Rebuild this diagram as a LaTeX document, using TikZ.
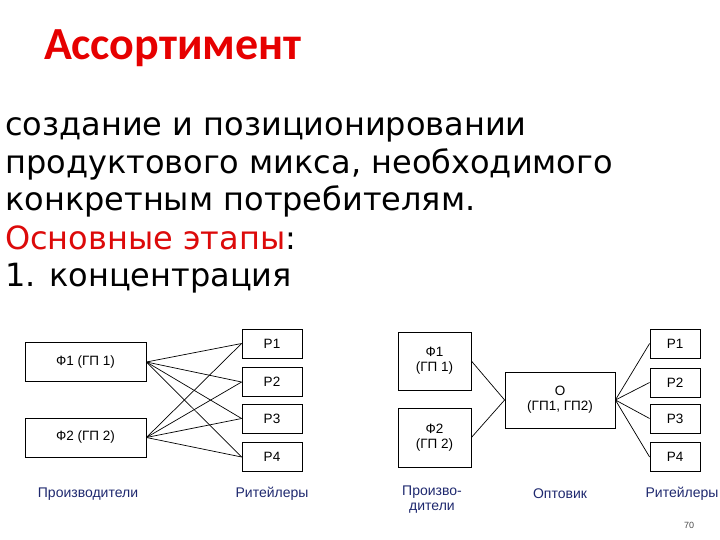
\documentclass[tikz,border=0pt]{standalone}
\usepackage{fontspec}
\setmainfont{DejaVu Sans}
\newfontfamily\titlefont{Carlito}
\newfontfamily\diagfont{Liberation Sans}
\definecolor{titlered}{RGB}{230,0,0}
\definecolor{bodyred}{RGB}{220,10,10}
\definecolor{labblue}{RGB}{30,40,110}
\tikzset{
  bx/.style={draw=black, line width=0.8pt, inner sep=0pt, font=\diagfont\fontsize{13.5}{15}\selectfont, align=center},
  ln/.style={draw=black, line width=0.7pt},
  lab/.style={font=\diagfont\fontsize{14}{15}\selectfont, text=labblue, align=center, inner sep=0pt},
  body/.style={anchor=base west, inner sep=0pt, font=\fontsize{32}{37}\selectfont}
}
\begin{document}
\begin{tikzpicture}[x=1pt,y=-1pt]
\useasboundingbox (0,0) rectangle (720,540);
\node[anchor=base west, inner sep=0pt, text=titlered, font=\titlefont\bfseries\fontsize{46}{52}\selectfont] (title) at (44,60) {Ассортимент};
\node[body] (l1) at (5,136) {создание и позиционировании};
\node[body] (l2) at (5,174) {продуктового микса, необходимого};
\node[body] (l3) at (5,211) {конкретным потребителям.};
\node[body] (l4) at (5,249) {\textcolor{bodyred}{Основные этапы}:};
\node[body] (l5) at (5,286) {1. концентрация};
% left diagram
\node[bx, minimum width=121pt, minimum height=39pt] (f1) at (85.5,362) {Ф1 (ГП 1)};
\node[bx, minimum width=121pt, minimum height=39pt] (f2) at (85.5,437.5) {Ф2 (ГП 2)};
\foreach \n/\y in {1/343.5,2/382,3/418.5,4/457}{
  \node[bx, minimum width=60pt, minimum height=29pt] (p\n) at (272,\y) {Р\n};
}
\foreach \n in {1,2,3,4}{
  \draw[ln] (f1.east) -- (p\n.west);
  \draw[ln] (f2.east) -- (p\n.west);
}
\node[lab] (prodL) at (88,494) {Производители};
\node[lab] (retL) at (272,494) {Ритейлеры};
% right diagram
\node[bx, minimum width=73pt, minimum height=58pt] (g1) at (434.5,361) {Ф1\\(ГП 1)};
\node[bx, minimum width=73pt, minimum height=59pt] (g2) at (434.5,437.5) {Ф2\\(ГП 2)};
\node[bx, minimum width=110pt, minimum height=56pt] (o) at (560,400) {О\\(ГП1, ГП2)};
\foreach \n/\y in {1/343.5,2/382.5,3/418.5,4/457}{
  \node[bx, minimum width=50pt, minimum height=29pt] (q\n) at (675,\y) {Р\n};
}
\draw[ln] (g1.east) -- (o.west);
\draw[ln] (g2.east) -- (o.west);
\foreach \n in {1,2,3,4}{
  \draw[ln] (o.east) -- (q\n.west);
}
\node[lab] (prodR) at (432,500) {Произво-\\дители};
\node[lab] (optR) at (560,494) {Оптовик};
\node[lab] (retR) at (682,494) {Ритейлеры};
\node[font=\diagfont\fontsize{9}{10}\selectfont, text=black!70, inner sep=0pt] (pg) at (689,525) {70};
\end{tikzpicture}
\end{document}
